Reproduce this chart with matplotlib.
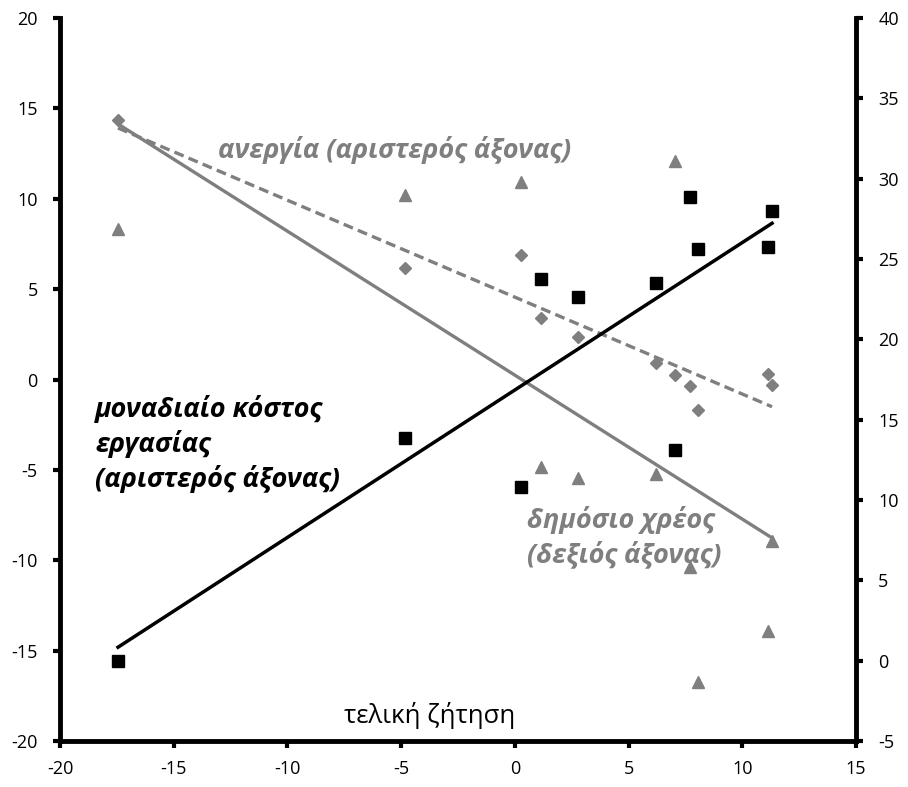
"""
Final demand vs unit labour cost, unemployment and public debt
"""

import matplotlib.pyplot as plt
import numpy as np

plt.rcParams['font.family'] = ['Open Sans', 'DejaVu Sans']
plt.rcParams['axes.unicode_minus'] = False

# final demand (x) shared by all three series
demand = [-17.45, -4.83, 0.27, 1.14, 2.77, 6.19, 7.05, 7.68, 8.06, 11.12, 11.31]

# unit labour cost (left axis)
labour_cost = [-15.58, -3.24, -5.95, 5.54, 4.58, 5.36, -3.90, 10.12, 7.20, 7.35, 9.32]

# unemployment (left axis)
unemployment = [14.36, 6.17, 6.89, 3.39, 2.37, 0.90, 0.27, -0.34, -1.70, 0.29, -0.32]

# public debt (right axis)
public_debt = [26.87, 28.98, 29.81, 12.07, 11.35, 11.62, 31.12, 5.85, -1.31, 1.83, 7.47]

left_ticks = list(range(-20, 21, 5))
right_ticks = list(range(-5, 41, 5))
x_ticks = list(range(-20, 16, 5))

GRAY = '#7f7f7f'


def trend(x, y):
    # linear trendline spanning the data range
    x = np.asarray(x)
    k, b = np.polyfit(x, np.asarray(y), 1)
    xs = np.array([x.min(), x.max()])
    return xs, k * xs + b


fig = plt.figure(figsize=(9.08, 7.87), dpi=100)
ax = fig.add_axes([0.0661, 0.0584, 0.8766, 0.9187])
ax2 = ax.twinx()

# public debt on the right axis
ax2.plot(demand, public_debt, linestyle='none', marker='^', ms=8,
         color=GRAY, zorder=2)
tx, ty = trend(demand, public_debt)
ax2.plot(tx, ty, color=GRAY, lw=2.4, zorder=2)

# unemployment and labour cost on the left axis
ax.set_zorder(ax2.get_zorder() + 1)
ax.patch.set_visible(False)
ax.plot(demand, unemployment, linestyle='none', marker='D', ms=6,
        color=GRAY, zorder=2)
ux, uy = trend(demand, unemployment)
ax.plot(ux, uy, color=GRAY, lw=2.4, linestyle=(0, (3, 1.6)), zorder=2)

lx, ly = trend(demand, labour_cost)
ax.plot(lx, ly, color='black', lw=2.5, zorder=3)
ax.plot(demand, labour_cost, linestyle='none', marker='s', ms=9,
        color='black', zorder=4)

ax.set_xlim(-20, 15)
ax.set_ylim(-20, 20)
ax2.set_ylim(-5, 40)
ax.set_xticks(x_ticks)
ax.set_yticks(left_ticks)
ax2.set_yticks(right_ticks)

for a in (ax, ax2):
    for side in ('left', 'right', 'bottom'):
        a.spines[side].set_linewidth(3.5)
    a.spines['top'].set_visible(False)
    a.tick_params(direction='out', length=5, width=3, labelsize=13, pad=9)
ax.tick_params(axis='y', pad=11)
ax2.tick_params(axis='y', pad=11)
ax.spines['right'].set_visible(False)
ax2.spines['left'].set_visible(False)
ax2.spines['bottom'].set_visible(False)

# annotations
label_font = dict(style='italic', fontweight='bold', fontsize=19.5,
                  ha='left', va='center')
ax.text(-13.05, 12.7, 'ανεργία (αριστερός άξονας)', color=GRAY, **label_font)
ax.text(-18.46, -3.55, 'μοναδιαίο κόστος\nεργασίας\n(αριστερός άξονας)',
        color='black', linespacing=1.32, **label_font)
ax.text(0.54, -8.72, 'δημόσιο χρέος\n(δεξιός άξονας)', color=GRAY,
        linespacing=1.3, **label_font)
ax.text(-3.75, -18.6, 'τελική ζήτηση', color='black', fontsize=18.5,
        ha='center', va='center')

fig.savefig('out.png', dpi=100)
